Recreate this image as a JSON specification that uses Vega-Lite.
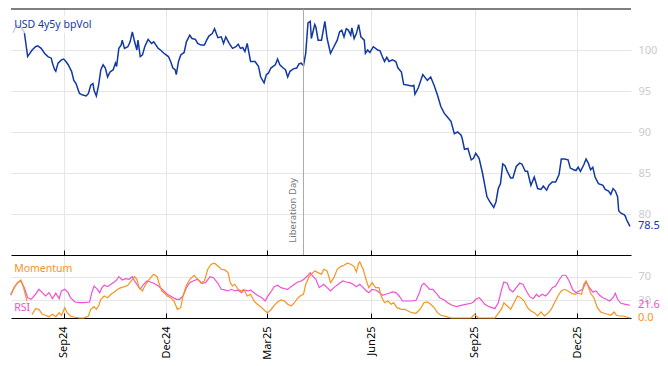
{
"$schema": "https://vega.github.io/schema/vega-lite/v6.json",
"padding": {"left": 8, "top": 8, "right": 5, "bottom": 5},
"background": "white",
"spacing": 0,
"config": {"view": {"stroke": null}, "font": "Noto Sans", "text": {"font": "Noto Sans"}},
"datasets": {
"one": [{}],
"vol": [
{"d":"2024-07-18","v":102.1},{"d":"2024-07-21","v":103.0},{"d":"2024-07-24","v":102.9},{"d":"2024-07-28","v":102.2},{"d":"2024-07-31","v":99.2},{"d":"2024-08-01","v":99.4},{"d":"2024-08-04","v":100.0},{"d":"2024-08-07","v":100.4},{"d":"2024-08-09","v":100.5},{"d":"2024-08-12","v":100.2},{"d":"2024-08-15","v":99.6},{"d":"2024-08-18","v":99.2},{"d":"2024-08-21","v":99.0},{"d":"2024-08-22","v":98.4},{"d":"2024-08-24","v":97.6},{"d":"2024-08-25","v":97.4},{"d":"2024-08-27","v":98.4},{"d":"2024-08-30","v":98.8},{"d":"2024-09-01","v":98.9},{"d":"2024-09-03","v":98.6},{"d":"2024-09-05","v":98.2},{"d":"2024-09-08","v":97.4},{"d":"2024-09-10","v":96.3},{"d":"2024-09-12","v":95.9},{"d":"2024-09-13","v":95.5},{"d":"2024-09-15","v":94.7},{"d":"2024-09-18","v":94.5},{"d":"2024-09-21","v":94.4},{"d":"2024-09-23","v":94.7},{"d":"2024-09-25","v":95.7},{"d":"2024-09-27","v":95.9},{"d":"2024-09-28","v":95.1},{"d":"2024-09-30","v":94.4},{"d":"2024-10-02","v":95.7},{"d":"2024-10-04","v":97.6},{"d":"2024-10-06","v":98.2},{"d":"2024-10-08","v":97.8},{"d":"2024-10-10","v":96.7},{"d":"2024-10-12","v":97.3},{"d":"2024-10-15","v":97.6},{"d":"2024-10-17","v":98.4},{"d":"2024-10-18","v":98.0},{"d":"2024-10-20","v":100.2},{"d":"2024-10-22","v":100.6},{"d":"2024-10-23","v":101.2},{"d":"2024-10-25","v":100.2},{"d":"2024-10-28","v":100.4},{"d":"2024-10-30","v":101.0},{"d":"2024-11-01","v":102.2},{"d":"2024-11-03","v":101.0},{"d":"2024-11-05","v":100.0},{"d":"2024-11-06","v":101.2},{"d":"2024-11-08","v":99.2},{"d":"2024-11-10","v":99.4},{"d":"2024-11-12","v":100.4},{"d":"2024-11-15","v":101.3},{"d":"2024-11-18","v":100.8},{"d":"2024-11-20","v":101.0},{"d":"2024-11-22","v":100.6},{"d":"2024-11-24","v":100.2},{"d":"2024-11-26","v":100.0},{"d":"2024-11-29","v":99.6},{"d":"2024-12-01","v":99.4},{"d":"2024-12-03","v":99.2},{"d":"2024-12-05","v":98.6},{"d":"2024-12-07","v":97.8},{"d":"2024-12-09","v":97.6},{"d":"2024-12-10","v":97.0},{"d":"2024-12-12","v":98.6},{"d":"2024-12-14","v":99.4},{"d":"2024-12-17","v":99.7},{"d":"2024-12-19","v":101.0},{"d":"2024-12-22","v":101.8},{"d":"2024-12-24","v":101.4},{"d":"2024-12-27","v":101.3},{"d":"2024-12-29","v":100.8},{"d":"2025-01-01","v":100.6},{"d":"2025-01-04","v":100.6},{"d":"2025-01-06","v":101.2},{"d":"2025-01-08","v":101.7},{"d":"2025-01-11","v":102.0},{"d":"2025-01-13","v":102.6},{"d":"2025-01-16","v":101.5},{"d":"2025-01-19","v":101.6},{"d":"2025-01-21","v":100.8},{"d":"2025-01-23","v":101.6},{"d":"2025-01-26","v":100.8},{"d":"2025-01-29","v":100.2},{"d":"2025-02-01","v":100.4},{"d":"2025-02-03","v":100.7},{"d":"2025-02-05","v":100.2},{"d":"2025-02-07","v":100.3},{"d":"2025-02-09","v":99.8},{"d":"2025-02-11","v":100.8},{"d":"2025-02-14","v":98.6},{"d":"2025-02-18","v":98.6},{"d":"2025-02-21","v":98.0},{"d":"2025-02-23","v":96.7},{"d":"2025-02-26","v":96.0},{"d":"2025-02-28","v":97.0},{"d":"2025-03-02","v":97.2},{"d":"2025-03-04","v":97.8},{"d":"2025-03-08","v":98.2},{"d":"2025-03-10","v":98.9},{"d":"2025-03-12","v":98.2},{"d":"2025-03-15","v":97.8},{"d":"2025-03-17","v":97.6},{"d":"2025-03-19","v":96.7},{"d":"2025-03-21","v":97.4},{"d":"2025-03-24","v":97.7},{"d":"2025-03-27","v":97.8},{"d":"2025-03-29","v":98.3},{"d":"2025-03-31","v":98.4},{"d":"2025-04-02","v":98.1},{"d":"2025-04-04","v":99.6},{"d":"2025-04-06","v":103.3},{"d":"2025-04-08","v":103.5},{"d":"2025-04-09","v":101.4},{"d":"2025-04-12","v":103.1},{"d":"2025-04-13","v":102.8},{"d":"2025-04-15","v":101.2},{"d":"2025-04-18","v":101.2},{"d":"2025-04-21","v":103.5},{"d":"2025-04-23","v":101.4},{"d":"2025-04-26","v":99.6},{"d":"2025-04-29","v":100.4},{"d":"2025-05-02","v":101.2},{"d":"2025-05-04","v":102.2},{"d":"2025-05-06","v":102.4},{"d":"2025-05-08","v":101.6},{"d":"2025-05-10","v":102.6},{"d":"2025-05-12","v":102.4},{"d":"2025-05-14","v":101.8},{"d":"2025-05-15","v":102.7},{"d":"2025-05-17","v":101.4},{"d":"2025-05-19","v":102.0},{"d":"2025-05-21","v":103.1},{"d":"2025-05-23","v":101.6},{"d":"2025-05-26","v":101.2},{"d":"2025-05-27","v":99.6},{"d":"2025-05-29","v":100.0},{"d":"2025-05-31","v":99.7},{"d":"2025-06-03","v":100.4},{"d":"2025-06-05","v":100.2},{"d":"2025-06-07","v":100.0},{"d":"2025-06-09","v":99.9},{"d":"2025-06-11","v":99.2},{"d":"2025-06-13","v":98.6},{"d":"2025-06-15","v":99.1},{"d":"2025-06-17","v":98.6},{"d":"2025-06-20","v":98.8},{"d":"2025-06-23","v":98.6},{"d":"2025-06-25","v":97.8},{"d":"2025-06-28","v":97.3},{"d":"2025-06-30","v":95.8},{"d":"2025-07-04","v":95.7},{"d":"2025-07-07","v":95.6},{"d":"2025-07-09","v":95.7},{"d":"2025-07-10","v":94.6},{"d":"2025-07-13","v":95.4},{"d":"2025-07-17","v":97.0},{"d":"2025-07-21","v":96.3},{"d":"2025-07-24","v":96.7},{"d":"2025-07-27","v":95.7},{"d":"2025-07-30","v":94.5},{"d":"2025-08-02","v":93.1},{"d":"2025-08-05","v":92.3},{"d":"2025-08-08","v":91.8},{"d":"2025-08-11","v":91.3},{"d":"2025-08-14","v":89.8},{"d":"2025-08-17","v":90.0},{"d":"2025-08-20","v":89.6},{"d":"2025-08-21","v":89.2},{"d":"2025-08-23","v":87.9},{"d":"2025-08-26","v":88.0},{"d":"2025-08-29","v":86.6},{"d":"2025-08-31","v":86.8},{"d":"2025-09-02","v":87.4},{"d":"2025-09-05","v":86.8},{"d":"2025-09-08","v":85.0},{"d":"2025-09-12","v":82.1},{"d":"2025-09-15","v":81.4},{"d":"2025-09-18","v":80.8},{"d":"2025-09-20","v":81.5},{"d":"2025-09-22","v":83.1},{"d":"2025-09-24","v":83.7},{"d":"2025-09-26","v":86.1},{"d":"2025-09-28","v":85.9},{"d":"2025-09-30","v":85.2},{"d":"2025-10-03","v":84.4},{"d":"2025-10-05","v":84.4},{"d":"2025-10-08","v":85.8},{"d":"2025-10-11","v":86.2},{"d":"2025-10-13","v":86.1},{"d":"2025-10-16","v":85.2},{"d":"2025-10-18","v":85.2},{"d":"2025-10-21","v":83.5},{"d":"2025-10-24","v":84.5},{"d":"2025-10-27","v":83.1},{"d":"2025-10-30","v":83.0},{"d":"2025-11-01","v":83.4},{"d":"2025-11-04","v":82.9},{"d":"2025-11-06","v":83.5},{"d":"2025-11-09","v":83.9},{"d":"2025-11-12","v":83.9},{"d":"2025-11-15","v":84.8},{"d":"2025-11-17","v":86.7},{"d":"2025-11-20","v":86.7},{"d":"2025-11-23","v":86.6},{"d":"2025-11-25","v":85.6},{"d":"2025-11-28","v":85.4},{"d":"2025-11-30","v":85.3},{"d":"2025-12-02","v":85.7},{"d":"2025-12-04","v":85.2},{"d":"2025-12-07","v":86.0},{"d":"2025-12-09","v":86.7},{"d":"2025-12-11","v":86.2},{"d":"2025-12-13","v":85.4},{"d":"2025-12-15","v":85.7},{"d":"2025-12-17","v":84.5},{"d":"2025-12-20","v":83.7},{"d":"2025-12-24","v":83.5},{"d":"2025-12-26","v":83.0},{"d":"2025-12-29","v":82.8},{"d":"2025-12-31","v":82.4},{"d":"2026-01-02","v":83.1},{"d":"2026-01-04","v":82.8},{"d":"2026-01-06","v":82.1},{"d":"2026-01-07","v":80.4},{"d":"2026-01-09","v":80.1},{"d":"2026-01-12","v":79.9},{"d":"2026-01-13","v":79.7},{"d":"2026-01-14","v":79.3},{"d":"2026-01-17","v":78.5}
],
"ind": [
{"d":"2024-07-16","s":"RSI","v":38.5},{"d":"2024-07-19","s":"RSI","v":51.4},{"d":"2024-07-22","s":"RSI","v":59.8},{"d":"2024-07-25","s":"RSI","v":62.7},{"d":"2024-07-28","s":"RSI","v":51.4},{"d":"2024-07-31","s":"RSI","v":34.4},{"d":"2024-08-03","s":"RSI","v":31.7},{"d":"2024-08-07","s":"RSI","v":40.2},{"d":"2024-08-10","s":"RSI","v":48.6},{"d":"2024-08-13","s":"RSI","v":42.9},{"d":"2024-08-16","s":"RSI","v":37.3},{"d":"2024-08-19","s":"RSI","v":42.9},{"d":"2024-08-22","s":"RSI","v":32.7},{"d":"2024-08-25","s":"RSI","v":41.9},{"d":"2024-08-28","s":"RSI","v":32.7},{"d":"2024-08-30","s":"RSI","v":45.8},{"d":"2024-09-02","s":"RSI","v":48.6},{"d":"2024-09-05","s":"RSI","v":42.9},{"d":"2024-09-07","s":"RSI","v":34.4},{"d":"2024-09-11","s":"RSI","v":27.1},{"d":"2024-09-15","s":"RSI","v":25.9},{"d":"2024-09-19","s":"RSI","v":25.9},{"d":"2024-09-24","s":"RSI","v":27.1},{"d":"2024-09-26","s":"RSI","v":42.9},{"d":"2024-09-28","s":"RSI","v":54.2},{"d":"2024-10-01","s":"RSI","v":48.6},{"d":"2024-10-03","s":"RSI","v":42.9},{"d":"2024-10-05","s":"RSI","v":51.4},{"d":"2024-10-07","s":"RSI","v":55.4},{"d":"2024-10-10","s":"RSI","v":53.1},{"d":"2024-10-13","s":"RSI","v":57.1},{"d":"2024-10-16","s":"RSI","v":61.0},{"d":"2024-10-18","s":"RSI","v":64.4},{"d":"2024-10-20","s":"RSI","v":70.0},{"d":"2024-10-23","s":"RSI","v":64.4},{"d":"2024-10-26","s":"RSI","v":66.6},{"d":"2024-10-29","s":"RSI","v":65.6},{"d":"2024-11-01","s":"RSI","v":70.0},{"d":"2024-11-03","s":"RSI","v":62.7},{"d":"2024-11-06","s":"RSI","v":54.2},{"d":"2024-11-08","s":"RSI","v":48.6},{"d":"2024-11-11","s":"RSI","v":57.1},{"d":"2024-11-14","s":"RSI","v":62.7},{"d":"2024-11-17","s":"RSI","v":61.0},{"d":"2024-11-20","s":"RSI","v":58.8},{"d":"2024-11-23","s":"RSI","v":55.4},{"d":"2024-11-26","s":"RSI","v":51.4},{"d":"2024-11-29","s":"RSI","v":45.8},{"d":"2024-12-02","s":"RSI","v":40.2},{"d":"2024-12-06","s":"RSI","v":36.1},{"d":"2024-12-10","s":"RSI","v":31.7},{"d":"2024-12-13","s":"RSI","v":31.7},{"d":"2024-12-16","s":"RSI","v":37.3},{"d":"2024-12-19","s":"RSI","v":51.4},{"d":"2024-12-22","s":"RSI","v":59.8},{"d":"2024-12-25","s":"RSI","v":62.7},{"d":"2024-12-29","s":"RSI","v":65.6},{"d":"2025-01-02","s":"RSI","v":58.8},{"d":"2025-01-05","s":"RSI","v":59.8},{"d":"2025-01-09","s":"RSI","v":70.0},{"d":"2025-01-12","s":"RSI","v":68.3},{"d":"2025-01-16","s":"RSI","v":58.8},{"d":"2025-01-19","s":"RSI","v":48.6},{"d":"2025-01-22","s":"RSI","v":47.5},{"d":"2025-01-25","s":"RSI","v":45.8},{"d":"2025-01-28","s":"RSI","v":48.6},{"d":"2025-01-31","s":"RSI","v":45.8},{"d":"2025-02-03","s":"RSI","v":47.0},{"d":"2025-02-06","s":"RSI","v":42.9},{"d":"2025-02-08","s":"RSI","v":47.0},{"d":"2025-02-12","s":"RSI","v":45.8},{"d":"2025-02-14","s":"RSI","v":47.5},{"d":"2025-02-17","s":"RSI","v":42.9},{"d":"2025-02-20","s":"RSI","v":38.5},{"d":"2025-02-24","s":"RSI","v":34.4},{"d":"2025-02-27","s":"RSI","v":28.8},{"d":"2025-03-01","s":"RSI","v":36.1},{"d":"2025-03-04","s":"RSI","v":44.1},{"d":"2025-03-07","s":"RSI","v":53.1},{"d":"2025-03-10","s":"RSI","v":55.4},{"d":"2025-03-13","s":"RSI","v":51.4},{"d":"2025-03-16","s":"RSI","v":49.7},{"d":"2025-03-19","s":"RSI","v":48.6},{"d":"2025-03-22","s":"RSI","v":53.1},{"d":"2025-03-25","s":"RSI","v":57.1},{"d":"2025-03-28","s":"RSI","v":61.0},{"d":"2025-03-31","s":"RSI","v":62.7},{"d":"2025-04-03","s":"RSI","v":66.6},{"d":"2025-04-06","s":"RSI","v":72.4},{"d":"2025-04-08","s":"RSI","v":76.8},{"d":"2025-04-10","s":"RSI","v":71.2},{"d":"2025-04-13","s":"RSI","v":65.6},{"d":"2025-04-16","s":"RSI","v":51.4},{"d":"2025-04-20","s":"RSI","v":57.1},{"d":"2025-04-23","s":"RSI","v":51.4},{"d":"2025-04-26","s":"RSI","v":45.8},{"d":"2025-04-29","s":"RSI","v":51.4},{"d":"2025-05-04","s":"RSI","v":58.8},{"d":"2025-05-07","s":"RSI","v":62.7},{"d":"2025-05-10","s":"RSI","v":61.0},{"d":"2025-05-13","s":"RSI","v":59.8},{"d":"2025-05-16","s":"RSI","v":57.1},{"d":"2025-05-19","s":"RSI","v":53.1},{"d":"2025-05-22","s":"RSI","v":57.1},{"d":"2025-05-25","s":"RSI","v":51.4},{"d":"2025-05-28","s":"RSI","v":45.8},{"d":"2025-05-30","s":"RSI","v":42.9},{"d":"2025-06-02","s":"RSI","v":48.6},{"d":"2025-06-05","s":"RSI","v":47.5},{"d":"2025-06-08","s":"RSI","v":44.1},{"d":"2025-06-11","s":"RSI","v":38.5},{"d":"2025-06-14","s":"RSI","v":40.2},{"d":"2025-06-17","s":"RSI","v":41.9},{"d":"2025-06-20","s":"RSI","v":44.1},{"d":"2025-06-23","s":"RSI","v":42.9},{"d":"2025-06-26","s":"RSI","v":37.3},{"d":"2025-06-29","s":"RSI","v":28.8},{"d":"2025-07-03","s":"RSI","v":28.8},{"d":"2025-07-07","s":"RSI","v":28.8},{"d":"2025-07-11","s":"RSI","v":30.0},{"d":"2025-07-14","s":"RSI","v":42.9},{"d":"2025-07-16","s":"RSI","v":55.4},{"d":"2025-07-18","s":"RSI","v":58.8},{"d":"2025-07-21","s":"RSI","v":53.1},{"d":"2025-07-23","s":"RSI","v":48.6},{"d":"2025-07-26","s":"RSI","v":48.6},{"d":"2025-07-29","s":"RSI","v":41.9},{"d":"2025-08-01","s":"RSI","v":34.4},{"d":"2025-08-05","s":"RSI","v":30.5},{"d":"2025-08-08","s":"RSI","v":25.9},{"d":"2025-08-12","s":"RSI","v":21.5},{"d":"2025-08-16","s":"RSI","v":19.2},{"d":"2025-08-20","s":"RSI","v":21.5},{"d":"2025-08-24","s":"RSI","v":23.2},{"d":"2025-08-29","s":"RSI","v":24.9},{"d":"2025-08-31","s":"RSI","v":27.1},{"d":"2025-09-02","s":"RSI","v":31.7},{"d":"2025-09-05","s":"RSI","v":34.4},{"d":"2025-09-07","s":"RSI","v":30.5},{"d":"2025-09-10","s":"RSI","v":23.2},{"d":"2025-09-14","s":"RSI","v":19.2},{"d":"2025-09-19","s":"RSI","v":15.8},{"d":"2025-09-22","s":"RSI","v":25.9},{"d":"2025-09-25","s":"RSI","v":48.6},{"d":"2025-09-27","s":"RSI","v":61.0},{"d":"2025-09-30","s":"RSI","v":58.8},{"d":"2025-10-02","s":"RSI","v":48.6},{"d":"2025-10-05","s":"RSI","v":44.1},{"d":"2025-10-08","s":"RSI","v":51.4},{"d":"2025-10-11","s":"RSI","v":58.8},{"d":"2025-10-14","s":"RSI","v":57.1},{"d":"2025-10-17","s":"RSI","v":45.8},{"d":"2025-10-20","s":"RSI","v":36.1},{"d":"2025-10-23","s":"RSI","v":32.7},{"d":"2025-10-26","s":"RSI","v":40.2},{"d":"2025-10-28","s":"RSI","v":36.1},{"d":"2025-10-31","s":"RSI","v":40.2},{"d":"2025-11-03","s":"RSI","v":37.3},{"d":"2025-11-06","s":"RSI","v":42.9},{"d":"2025-11-09","s":"RSI","v":51.4},{"d":"2025-11-12","s":"RSI","v":54.2},{"d":"2025-11-15","s":"RSI","v":64.4},{"d":"2025-11-18","s":"RSI","v":72.4},{"d":"2025-11-21","s":"RSI","v":72.4},{"d":"2025-11-24","s":"RSI","v":62.7},{"d":"2025-11-27","s":"RSI","v":48.6},{"d":"2025-11-30","s":"RSI","v":42.9},{"d":"2025-12-03","s":"RSI","v":45.8},{"d":"2025-12-06","s":"RSI","v":48.6},{"d":"2025-12-09","s":"RSI","v":61.0},{"d":"2025-12-12","s":"RSI","v":51.4},{"d":"2025-12-15","s":"RSI","v":44.1},{"d":"2025-12-18","s":"RSI","v":45.8},{"d":"2025-12-21","s":"RSI","v":38.5},{"d":"2025-12-24","s":"RSI","v":34.4},{"d":"2025-12-27","s":"RSI","v":31.7},{"d":"2025-12-30","s":"RSI","v":28.8},{"d":"2026-01-02","s":"RSI","v":34.4},{"d":"2026-01-04","s":"RSI","v":41.9},{"d":"2026-01-06","s":"RSI","v":31.7},{"d":"2026-01-09","s":"RSI","v":24.9},{"d":"2026-01-13","s":"RSI","v":23.2},{"d":"2026-01-17","s":"RSI","v":21.6},
{"d":"2024-07-16","s":"Momentum","v":40.2},{"d":"2024-07-19","s":"Momentum","v":51.4},{"d":"2024-07-22","s":"Momentum","v":59.8},{"d":"2024-07-25","s":"Momentum","v":64.4},{"d":"2024-07-27","s":"Momentum","v":54.2},{"d":"2024-07-30","s":"Momentum","v":31.7},{"d":"2024-08-01","s":"Momentum","v":11.9},{"d":"2024-08-04","s":"Momentum","v":6.3},{"d":"2024-08-07","s":"Momentum","v":15.8},{"d":"2024-08-10","s":"Momentum","v":14.7},{"d":"2024-08-13","s":"Momentum","v":6.3},{"d":"2024-08-16","s":"Momentum","v":4.6},{"d":"2024-08-19","s":"Momentum","v":2.2},{"d":"2024-08-22","s":"Momentum","v":6.3},{"d":"2024-08-25","s":"Momentum","v":2.2},{"d":"2024-08-28","s":"Momentum","v":9.0},{"d":"2024-08-30","s":"Momentum","v":4.6},{"d":"2024-09-02","s":"Momentum","v":17.5},{"d":"2024-09-04","s":"Momentum","v":9.0},{"d":"2024-09-07","s":"Momentum","v":3.4},{"d":"2024-09-10","s":"Momentum","v":1.7},{"d":"2024-09-15","s":"Momentum","v":0.0},{"d":"2024-09-19","s":"Momentum","v":0.0},{"d":"2024-09-23","s":"Momentum","v":3.4},{"d":"2024-09-25","s":"Momentum","v":14.7},{"d":"2024-09-28","s":"Momentum","v":19.2},{"d":"2024-09-30","s":"Momentum","v":14.7},{"d":"2024-10-02","s":"Momentum","v":20.3},{"d":"2024-10-04","s":"Momentum","v":31.7},{"d":"2024-10-07","s":"Momentum","v":37.3},{"d":"2024-10-10","s":"Momentum","v":34.4},{"d":"2024-10-13","s":"Momentum","v":40.2},{"d":"2024-10-16","s":"Momentum","v":44.1},{"d":"2024-10-19","s":"Momentum","v":48.6},{"d":"2024-10-22","s":"Momentum","v":51.4},{"d":"2024-10-25","s":"Momentum","v":53.1},{"d":"2024-10-28","s":"Momentum","v":55.4},{"d":"2024-10-31","s":"Momentum","v":62.7},{"d":"2024-11-03","s":"Momentum","v":70.0},{"d":"2024-11-05","s":"Momentum","v":65.6},{"d":"2024-11-07","s":"Momentum","v":51.4},{"d":"2024-11-10","s":"Momentum","v":45.8},{"d":"2024-11-12","s":"Momentum","v":54.2},{"d":"2024-11-15","s":"Momentum","v":62.7},{"d":"2024-11-18","s":"Momentum","v":70.0},{"d":"2024-11-20","s":"Momentum","v":74.1},{"d":"2024-11-23","s":"Momentum","v":70.0},{"d":"2024-11-25","s":"Momentum","v":57.1},{"d":"2024-11-27","s":"Momentum","v":45.8},{"d":"2024-11-29","s":"Momentum","v":42.9},{"d":"2024-12-02","s":"Momentum","v":37.3},{"d":"2024-12-05","s":"Momentum","v":34.4},{"d":"2024-12-08","s":"Momentum","v":28.8},{"d":"2024-12-11","s":"Momentum","v":14.7},{"d":"2024-12-14","s":"Momentum","v":17.5},{"d":"2024-12-16","s":"Momentum","v":37.3},{"d":"2024-12-19","s":"Momentum","v":55.4},{"d":"2024-12-22","s":"Momentum","v":65.6},{"d":"2024-12-26","s":"Momentum","v":72.4},{"d":"2024-12-29","s":"Momentum","v":65.6},{"d":"2025-01-01","s":"Momentum","v":58.8},{"d":"2025-01-04","s":"Momentum","v":62.7},{"d":"2025-01-07","s":"Momentum","v":82.5},{"d":"2025-01-10","s":"Momentum","v":91.0},{"d":"2025-01-13","s":"Momentum","v":92.7},{"d":"2025-01-16","s":"Momentum","v":88.1},{"d":"2025-01-19","s":"Momentum","v":82.5},{"d":"2025-01-22","s":"Momentum","v":81.4},{"d":"2025-01-25","s":"Momentum","v":76.8},{"d":"2025-01-27","s":"Momentum","v":59.8},{"d":"2025-01-29","s":"Momentum","v":54.2},{"d":"2025-01-31","s":"Momentum","v":57.1},{"d":"2025-02-03","s":"Momentum","v":48.6},{"d":"2025-02-06","s":"Momentum","v":45.8},{"d":"2025-02-08","s":"Momentum","v":48.6},{"d":"2025-02-11","s":"Momentum","v":37.3},{"d":"2025-02-14","s":"Momentum","v":40.2},{"d":"2025-02-17","s":"Momentum","v":28.8},{"d":"2025-02-20","s":"Momentum","v":23.2},{"d":"2025-02-23","s":"Momentum","v":19.2},{"d":"2025-02-26","s":"Momentum","v":13.6},{"d":"2025-03-01","s":"Momentum","v":9.0},{"d":"2025-03-04","s":"Momentum","v":13.6},{"d":"2025-03-07","s":"Momentum","v":21.5},{"d":"2025-03-10","s":"Momentum","v":27.1},{"d":"2025-03-13","s":"Momentum","v":30.5},{"d":"2025-03-16","s":"Momentum","v":28.8},{"d":"2025-03-19","s":"Momentum","v":23.2},{"d":"2025-03-22","s":"Momentum","v":20.3},{"d":"2025-03-25","s":"Momentum","v":25.9},{"d":"2025-03-27","s":"Momentum","v":31.7},{"d":"2025-03-30","s":"Momentum","v":37.3},{"d":"2025-04-02","s":"Momentum","v":40.2},{"d":"2025-04-04","s":"Momentum","v":57.1},{"d":"2025-04-07","s":"Momentum","v":70.0},{"d":"2025-04-09","s":"Momentum","v":74.1},{"d":"2025-04-12","s":"Momentum","v":79.7},{"d":"2025-04-15","s":"Momentum","v":76.8},{"d":"2025-04-18","s":"Momentum","v":74.1},{"d":"2025-04-20","s":"Momentum","v":82.5},{"d":"2025-04-23","s":"Momentum","v":79.7},{"d":"2025-04-26","s":"Momentum","v":59.8},{"d":"2025-04-29","s":"Momentum","v":68.3},{"d":"2025-05-02","s":"Momentum","v":82.5},{"d":"2025-05-05","s":"Momentum","v":87.0},{"d":"2025-05-08","s":"Momentum","v":89.3},{"d":"2025-05-11","s":"Momentum","v":92.7},{"d":"2025-05-14","s":"Momentum","v":91.0},{"d":"2025-05-17","s":"Momentum","v":87.0},{"d":"2025-05-19","s":"Momentum","v":78.0},{"d":"2025-05-21","s":"Momentum","v":92.7},{"d":"2025-05-22","s":"Momentum","v":94.9},{"d":"2025-05-25","s":"Momentum","v":82.5},{"d":"2025-05-28","s":"Momentum","v":62.7},{"d":"2025-05-30","s":"Momentum","v":51.4},{"d":"2025-06-02","s":"Momentum","v":59.8},{"d":"2025-06-05","s":"Momentum","v":51.4},{"d":"2025-06-08","s":"Momentum","v":51.4},{"d":"2025-06-10","s":"Momentum","v":37.3},{"d":"2025-06-13","s":"Momentum","v":25.9},{"d":"2025-06-16","s":"Momentum","v":28.8},{"d":"2025-06-19","s":"Momentum","v":23.2},{"d":"2025-06-21","s":"Momentum","v":25.9},{"d":"2025-06-24","s":"Momentum","v":17.5},{"d":"2025-06-28","s":"Momentum","v":14.7},{"d":"2025-07-01","s":"Momentum","v":14.7},{"d":"2025-07-04","s":"Momentum","v":11.9},{"d":"2025-07-07","s":"Momentum","v":9.0},{"d":"2025-07-11","s":"Momentum","v":8.0},{"d":"2025-07-15","s":"Momentum","v":15.8},{"d":"2025-07-18","s":"Momentum","v":25.9},{"d":"2025-07-21","s":"Momentum","v":27.1},{"d":"2025-07-24","s":"Momentum","v":23.2},{"d":"2025-07-27","s":"Momentum","v":17.5},{"d":"2025-07-30","s":"Momentum","v":9.0},{"d":"2025-08-02","s":"Momentum","v":4.6},{"d":"2025-08-07","s":"Momentum","v":2.2},{"d":"2025-08-11","s":"Momentum","v":0.0},{"d":"2025-08-17","s":"Momentum","v":0.0},{"d":"2025-08-23","s":"Momentum","v":0.0},{"d":"2025-08-29","s":"Momentum","v":0.0},{"d":"2025-09-01","s":"Momentum","v":6.3},{"d":"2025-09-04","s":"Momentum","v":0.0},{"d":"2025-09-10","s":"Momentum","v":0.0},{"d":"2025-09-16","s":"Momentum","v":0.0},{"d":"2025-09-19","s":"Momentum","v":0.0},{"d":"2025-09-22","s":"Momentum","v":8.0},{"d":"2025-09-25","s":"Momentum","v":15.8},{"d":"2025-09-27","s":"Momentum","v":25.9},{"d":"2025-09-30","s":"Momentum","v":20.3},{"d":"2025-10-03","s":"Momentum","v":14.7},{"d":"2025-10-06","s":"Momentum","v":25.9},{"d":"2025-10-09","s":"Momentum","v":37.3},{"d":"2025-10-12","s":"Momentum","v":34.4},{"d":"2025-10-15","s":"Momentum","v":28.8},{"d":"2025-10-18","s":"Momentum","v":17.5},{"d":"2025-10-21","s":"Momentum","v":11.9},{"d":"2025-10-24","s":"Momentum","v":9.0},{"d":"2025-10-27","s":"Momentum","v":3.4},{"d":"2025-10-30","s":"Momentum","v":10.2},{"d":"2025-11-02","s":"Momentum","v":3.4},{"d":"2025-11-05","s":"Momentum","v":8.0},{"d":"2025-11-08","s":"Momentum","v":14.7},{"d":"2025-11-11","s":"Momentum","v":25.9},{"d":"2025-11-14","s":"Momentum","v":37.3},{"d":"2025-11-17","s":"Momentum","v":45.8},{"d":"2025-11-20","s":"Momentum","v":48.6},{"d":"2025-11-23","s":"Momentum","v":45.8},{"d":"2025-11-26","s":"Momentum","v":41.9},{"d":"2025-11-29","s":"Momentum","v":40.2},{"d":"2025-12-02","s":"Momentum","v":41.9},{"d":"2025-12-05","s":"Momentum","v":40.2},{"d":"2025-12-07","s":"Momentum","v":57.1},{"d":"2025-12-09","s":"Momentum","v":62.7},{"d":"2025-12-10","s":"Momentum","v":58.8},{"d":"2025-12-13","s":"Momentum","v":41.9},{"d":"2025-12-16","s":"Momentum","v":34.4},{"d":"2025-12-19","s":"Momentum","v":17.5},{"d":"2025-12-22","s":"Momentum","v":10.2},{"d":"2025-12-25","s":"Momentum","v":8.0},{"d":"2025-12-28","s":"Momentum","v":6.3},{"d":"2025-12-31","s":"Momentum","v":4.6},{"d":"2026-01-03","s":"Momentum","v":10.2},{"d":"2026-01-05","s":"Momentum","v":4.6},{"d":"2026-01-08","s":"Momentum","v":3.4},{"d":"2026-01-11","s":"Momentum","v":3.4},{"d":"2026-01-14","s":"Momentum","v":1.7},{"d":"2026-01-17","s":"Momentum","v":0.0}
]
},
"vconcat": [
{
"width": 620, "height": 246,
"layer": [
{"data": {"name": "vol"},
 "mark": {"type": "line", "color": "#1238a6", "strokeWidth": 1.5},
 "encoding": {
  "x": {"field": "d", "type": "temporal",
        "scale": {"type": "utc", "domain": [{"year":2024,"month":7,"date":16,"hours":5,"utc":true},{"year":2026,"month":1,"date":17,"hours":22,"utc":true}]},
        "axis": {"orient": "bottom", "title": null, "labels": false, "tickSize": -5, "tickColor": "black", "domainColor": "black", "grid": true, "gridColor": "#e6e6e6",
                 "values": [{"year":2024,"month":9,"date":1,"utc":true},{"year":2024,"month":12,"date":1,"utc":true},{"year":2025,"month":3,"date":1,"utc":true},{"year":2025,"month":6,"date":1,"utc":true},{"year":2025,"month":9,"date":1,"utc":true},{"year":2025,"month":12,"date":1,"utc":true}]}},
  "y": {"field": "v", "type": "quantitative", "scale": {"domain": [75, 105], "nice": false, "zero": false},
        "axis": {"orient": "right", "title": null, "values": [80, 85, 90, 95, 100], "ticks": false, "domain": false, "labelColor": "#cccccc", "labelFontSize": 11, "labelPadding": 7, "grid": true, "gridColor": "#e6e6e6"}}
 }},
{"data": {"name": "one"}, "mark": {"type": "rect", "fill": "white", "opacity": 0.75},
 "encoding": {"x": {"datum": {"year":2024,"month":7,"date":16,"hours":5,"utc":true}, "type": "temporal"}, "x2": {"datum": {"year":2024,"month":9,"date":30,"utc":true}},
              "y": {"datum": 102.05, "type": "quantitative"}, "y2": {"datum": 104.2}}},
{"data": {"name": "one"}, "mark": {"type": "rule", "color": "black", "strokeWidth": 1}, "encoding": {"y": {"datum": 105, "type": "quantitative"}}},
{"data": {"name": "one"}, "mark": {"type": "rule", "color": "#aaaaaa", "strokeWidth": 1}, "encoding": {"x": {"datum": {"year":2025,"month":4,"date":2,"utc":true}, "type": "temporal"}}},
{"data": {"name": "one"}, "mark": {"type": "text", "text": "Liberation Day", "angle": 270, "align": "left", "baseline": "bottom", "dy": -5, "color": "#777777", "fontSize": 9.5},
 "encoding": {"x": {"datum": {"year":2025,"month":4,"date":2,"utc":true}, "type": "temporal"}, "y": {"datum": 76.5, "type": "quantitative"}}},
{"data": {"name": "one"}, "mark": {"type": "text", "text": "USD 4y5y bpVol", "align": "left", "baseline": "middle", "color": "#1238a6", "fontSize": 10.5},
 "encoding": {"x": {"datum": {"year":2024,"month":7,"date":19,"utc":true}, "type": "temporal"}, "y": {"datum": 103, "type": "quantitative"}}},
{"data": {"name": "vol"},
 "transform": [{"joinaggregate": [{"op": "max", "field": "d", "as": "maxd"}]}, {"filter": "datum.d >= datum.maxd"}],
 "mark": {"type": "text", "align": "left", "baseline": "middle", "dx": 8, "color": "#1238a6", "fontSize": 11},
 "encoding": {"x": {"field": "d", "type": "temporal"}, "y": {"field": "v", "type": "quantitative"}, "text": {"field": "v", "type": "quantitative", "format": ".1f"}}}
]
},
{
"width": 620, "height": 62,
"layer": [
{"data": {"name": "ind"},
 "mark": {"type": "line", "strokeWidth": 1.2},
 "encoding": {
  "x": {"field": "d", "type": "temporal",
        "scale": {"type": "utc", "domain": [{"year":2024,"month":7,"date":16,"hours":5,"utc":true},{"year":2026,"month":1,"date":17,"hours":22,"utc":true}]},
        "axis": {"orient": "bottom", "title": null, "labelExpr": "utcFormat(datum.value, '%b%y')", "labelAngle": -90, "labelFontSize": 11, "labelColor": "black", "labelPadding": 13, "tickSize": -5, "tickColor": "black", "domainColor": "black", "grid": true, "gridColor": "#e6e6e6",
                 "values": [{"year":2024,"month":9,"date":1,"utc":true},{"year":2024,"month":12,"date":1,"utc":true},{"year":2025,"month":3,"date":1,"utc":true},{"year":2025,"month":6,"date":1,"utc":true},{"year":2025,"month":9,"date":1,"utc":true},{"year":2025,"month":12,"date":1,"utc":true}]}},
  "y": {"field": "v", "type": "quantitative", "scale": {"domain": [0, 105], "nice": false},
        "axis": {"orient": "right", "title": null, "values": [30, 70], "ticks": false, "domain": false, "labelColor": "#cccccc", "labelFontSize": 11, "labelPadding": 7, "grid": true, "gridColor": "#e6e6e6"}},
  "color": {"field": "s", "type": "nominal", "scale": {"domain": ["Momentum", "RSI"], "range": ["#f7931e", "#f050d4"]}, "legend": null}
 }},
{"data": {"name": "one"}, "mark": {"type": "rect", "fill": "white", "opacity": 0.75},
 "encoding": {"x": {"datum": {"year":2024,"month":7,"date":16,"hours":5,"utc":true}, "type": "temporal"}, "x2": {"datum": {"year":2024,"month":8,"date":4,"utc":true}},
              "y": {"datum": 5, "type": "quantitative"}, "y2": {"datum": 29}}},
{"data": {"name": "one"}, "mark": {"type": "text", "text": "Momentum", "align": "left", "baseline": "middle", "color": "#f7931e", "fontSize": 10.5},
 "encoding": {"x": {"datum": {"year":2024,"month":7,"date":19,"utc":true}, "type": "temporal"}, "y": {"datum": 83, "type": "quantitative"}}},
{"data": {"name": "one"}, "mark": {"type": "text", "text": "RSI", "align": "left", "baseline": "middle", "color": "#f050d4", "fontSize": 10.5},
 "encoding": {"x": {"datum": {"year":2024,"month":7,"date":19,"utc":true}, "type": "temporal"}, "y": {"datum": 17, "type": "quantitative"}}},
{"data": {"name": "ind"},
 "transform": [{"joinaggregate": [{"op": "max", "field": "d", "as": "maxd"}]}, {"filter": "datum.d >= datum.maxd"}],
 "mark": {"type": "text", "align": "left", "baseline": "middle", "dx": 8, "fontSize": 11},
 "encoding": {"x": {"field": "d", "type": "temporal"}, "y": {"field": "v", "type": "quantitative"}, "text": {"field": "v", "type": "quantitative", "format": ".1f"},
  "color": {"field": "s", "type": "nominal", "scale": {"domain": ["Momentum", "RSI"], "range": ["#f7931e", "#f050d4"]}, "legend": null}}}
]
}
]
}
